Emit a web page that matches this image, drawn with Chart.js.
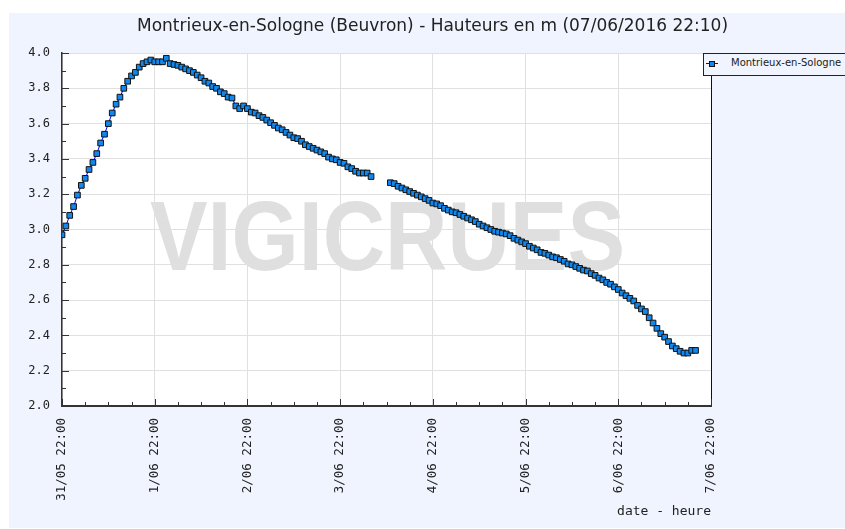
<!DOCTYPE html>
<html>
<head>
<meta charset="utf-8">
<script src="https://cdn.jsdelivr.net/npm/chart.js@4.4.1/dist/chart.umd.min.js"></script>
<style>
html, body { margin: 0; padding: 0; background: #fff; }
#wrap { position: relative; width: 845px; height: 529px; overflow: hidden; }
#legend {
  position: absolute; left: 703px; top: 53px; width: 170px; height: 23px;
  box-sizing: border-box; border: 1px solid #222; background: #f0f4fe;
  font: 10px "DejaVu Sans", sans-serif; color: #222; white-space: nowrap;
}
#legend .ln { position: absolute; left: 2px; top: 9px; width: 12px; height: 1px; background: #0000ff; }
#legend .mk { position: absolute; left: 5px; top: 7px; width: 4px; height: 4px; background: #1188ee; border: 1px solid #111; }
#legend .tx { position: absolute; left: 27px; top: 3px; }
</style>
</head>
<body>
<div id="wrap">
  <canvas id="chart" width="845" height="529"></canvas>
  <div id="legend"><span class="ln"></span><span class="mk"></span><span class="tx">Montrieux-en-Sologne</span></div>
</div>
<script>
// hourly readings, first one at 31/05 22:00 (null = missing)
var heights = [
  2.97, 3.02, 3.08, 3.13, 3.195, 3.25, 3.29, 3.34, 3.38, 3.43,
  3.49, 3.54, 3.60, 3.66, 3.71, 3.75, 3.80, 3.84, 3.87, 3.89,
  3.92, 3.94, 3.95, 3.96, 3.95, 3.95, 3.95, 3.97, 3.94, 3.935,
  3.93, 3.92, 3.91, 3.90, 3.89, 3.875, 3.86, 3.84, 3.83, 3.81,
  3.80, 3.78, 3.77, 3.75, 3.745, 3.70, 3.685, 3.70, 3.685, 3.665,
  3.66, 3.645, 3.635, 3.62, 3.605, 3.59, 3.575, 3.565, 3.55, 3.535,
  3.52, 3.515, 3.50, 3.48, 3.47, 3.46, 3.45, 3.44, 3.43, 3.41,
  3.40, 3.395, 3.38, 3.375, 3.355, 3.345, 3.33, 3.32, 3.32, 3.32,
  3.30, null, null, null, null, 3.265, 3.26, 3.245, 3.235, 3.225,
  3.215, 3.205, 3.195, 3.185, 3.175, 3.165, 3.15, 3.145, 3.135, 3.12,
  3.11, 3.10, 3.095, 3.085, 3.075, 3.065, 3.055, 3.045, 3.03, 3.02,
  3.01, 3.00, 2.99, 2.985, 2.98, 2.975, 2.965, 2.95, 2.94, 2.93,
  2.92, 2.905, 2.895, 2.885, 2.87, 2.865, 2.855, 2.845, 2.84, 2.83,
  2.82, 2.805, 2.80, 2.79, 2.78, 2.77, 2.765, 2.75, 2.74, 2.725,
  2.715, 2.70, 2.69, 2.675, 2.66, 2.64, 2.625, 2.61, 2.595, 2.57,
  2.55, 2.535, 2.50, 2.47, 2.44, 2.41, 2.39, 2.365, 2.34, 2.325,
  2.31, 2.30, 2.30, 2.315, 2.315
];
var dayLabels = ['31/05 22:00', '1/06 22:00', '2/06 22:00', '3/06 22:00',
                 '4/06 22:00', '5/06 22:00', '6/06 22:00', '7/06 22:00'];
var seriesName = 'Montrieux-en-Sologne';
var chartTitle = 'Montrieux-en-Sologne (Beuvron) - Hauteurs en m (07/06/2016 22:10)';

var points = heights.map(function (v, i) { return { x: i, y: v }; });

var monoFont = { family: 'DejaVu Sans Mono', size: 12 };

var bgPlugin = {
  id: 'bg',
  beforeDraw: function (chart) {
    var ctx = chart.ctx, a = chart.chartArea;
    ctx.save();
    ctx.fillStyle = '#fff';
    ctx.fillRect(0, 0, chart.width, chart.height);
    ctx.fillStyle = '#f0f4fe';
    ctx.fillRect(9, 13, chart.width - 9, chart.height - 14);
    ctx.fillStyle = '#fff';
    ctx.fillRect(a.left, a.top, a.right - a.left, a.bottom - a.top);
    // watermark
    ctx.fillStyle = '#dfdfdf';
    ctx.font = 'bold 98px "Liberation Sans"';
    ctx.textBaseline = 'alphabetic';
    ctx.fillText('VIGICRUES', 150, 270, 475);
    ctx.restore();
  }
};

var tickPlugin = {
  id: 'inTicks',
  beforeDatasetsDraw: function (chart) {
    var ctx = chart.ctx, a = chart.chartArea, x = chart.scales.x, y = chart.scales.y;
    ctx.save();
    ctx.strokeStyle = '#333';
    ctx.lineWidth = 1;
    ctx.beginPath();
    x.ticks.forEach(function (t) {
      var px = Math.round(x.getPixelForValue(t.value)) + 0.5;
      var len = t.value % 24 === 0 ? 7 : 4;
      ctx.moveTo(px, a.bottom);
      ctx.lineTo(px, a.bottom - len);
    });
    y.ticks.forEach(function (t) {
      var py = Math.round(y.getPixelForValue(t.value)) + 0.5;
      var len = Math.round(t.value * 10) % 2 === 0 ? 7 : 4;
      ctx.moveTo(a.left, py);
      ctx.lineTo(a.left + len, py);
    });
    ctx.stroke();
    ctx.restore();
  }
};

new Chart('chart', {
  type: 'line',
  data: {
    datasets: [{
      label: seriesName,
      data: points,
      borderColor: '#0000ff',
      borderWidth: 1,
      pointStyle: 'rect',
      pointRadius: 4,
      pointBackgroundColor: '#1188ee',
      pointBorderColor: '#111',
      pointBorderWidth: 1,
      spanGaps: false
    }]
  },
  options: {
    responsive: false,
    devicePixelRatio: 1,
    animation: false,
    layout: { padding: { left: 20, right: 0, top: 0, bottom: 0 } },
    plugins: {
      legend: { display: false },
      tooltip: { enabled: false },
      title: {
        display: true,
        text: chartTitle,
        color: '#222',
        font: { family: 'DejaVu Sans', size: 17, weight: 'normal' },
        padding: { top: 16, bottom: 16.6 }
      }
    },
    scales: {
      x: {
        type: 'linear',
        min: 0,
        max: 168,
        afterFit: function (s) { s.height = 123; },
        border: { color: '#333', width: 2 },
        grid: {
          drawTicks: false,
          color: function (c) {
            if (c.tick.value === 168) return '#111';
            return c.tick.value % 24 === 0 ? '#e0e0e0' : 'rgba(0,0,0,0)';
          }
        },
        ticks: {
          stepSize: 6,
          autoSkip: false,
          maxRotation: 90,
          minRotation: 90,
          padding: 12,
          color: '#222',
          font: { family: 'DejaVu Sans Mono', size: 12.5 },
          callback: function (v) { return v % 24 === 0 ? dayLabels[v / 24] : ''; }
        },
        title: {
          display: true,
          text: 'date - heure',
          align: 'end',
          color: '#222',
          font: { family: 'DejaVu Sans Mono', size: 13 },
          padding: { top: 0, bottom: 10 }
        }
      },
      y: {
        min: 2,
        max: 4,
        afterFit: function (s) { s.width = 42; },
        border: { color: '#333', width: 1.5 },
        grid: {
          drawTicks: false,
          color: function (c) {
            return Math.round(c.tick.value * 10) % 2 === 0 ? '#e0e0e0' : 'rgba(0,0,0,0)';
          }
        },
        ticks: {
          stepSize: 0.1,
          padding: 12,
          color: '#222',
          font: monoFont,
          callback: function (v) { return Math.round(v * 10) % 2 === 0 ? v.toFixed(1) : ''; }
        }
      },
      y2: {
        position: 'right',
        min: 2,
        max: 4,
        afterFit: function (s) { s.width = 134; },
        grid: { display: false },
        border: { display: false },
        ticks: { display: false }
      }
    }
  },
  plugins: [bgPlugin, tickPlugin]
});
</script>
</body>
</html>
